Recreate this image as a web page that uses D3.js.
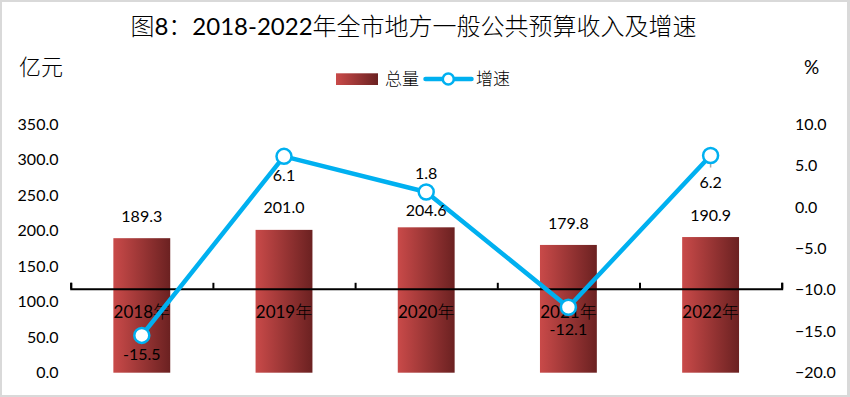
<!DOCTYPE html>
<html>
<head>
<meta charset="utf-8">
<script src="https://cdn.jsdelivr.net/npm/d3@7"></script>
<style>
  body { margin: 0; background: #fff; }
  svg { display: block; font-family: Lato, "Noto Sans CJK SC", sans-serif; }
</style>
</head>
<body>
<svg></svg>
<script>
var years = ['2018年', '2019年', '2020年', '2021年', '2022年'];
var totals = [189.3, 201.0, 204.6, 179.8, 190.9];
var growth = [-15.5, 6.1, 1.8, -12.1, 6.2];
var leftTicks = [0, 50, 100, 150, 200, 250, 300, 350];
var rightTicks = [-20, -15, -10, -5, 0, 5, 10];
// where each growth label sits: +1 below the point, -1 above
var growthLabelSide = [1, 1, -1, 1, 1];

var width = 850;
var height = 397;
var plotLeft = 70.7, plotRight = 781.7;
var plotTop = 124, plotBottom = 372.7;

var data = years.map(function(y, i) {
  return { year: y, total: totals[i], growth: growth[i], side: growthLabelSide[i] };
});

// latin runs regular, CJK runs light
function mixedText(sel, str) {
  var runs = str.match(/[\u3000-\u9fff\uff00-\uffef]+|[^\u3000-\u9fff\uff00-\uffef]+/g);
  runs.forEach(function(r) {
    sel.append('tspan')
      .style('font-weight', /[\u3000-\u9fff\uff00-\uffef]/.test(r) ? 300 : 400)
      .text(r);
  });
}

var svg = d3.select('svg')
  .attr('width', width)
  .attr('height', height);

// frame
svg.append('rect')
  .attr('width', width).attr('height', height)
  .attr('fill', '#d9d9d9');
svg.append('rect')
  .attr('x', 2).attr('y', 2)
  .attr('width', 845).attr('height', 393)
  .attr('fill', '#fff');

var defs = svg.append('defs');
var grad = defs.append('linearGradient')
  .attr('id', 'barGrad')
  .attr('x1', '0%').attr('x2', '100%')
  .attr('y1', '0%').attr('y2', '0%');
grad.append('stop').attr('offset', '0%').attr('stop-color', '#c94a49');
grad.append('stop').attr('offset', '100%').attr('stop-color', '#6b2121');

var xScale = d3.scaleBand()
  .domain(years)
  .range([plotLeft, plotRight])
  .paddingInner(0.6)
  .paddingOuter(0.3);

var xEdge = d3.scaleLinear()
  .domain([0, years.length])
  .range([plotLeft, plotRight]);

var yLeft = d3.scaleLinear()
  .domain([0, 350])
  .range([plotBottom, plotTop]);

var yRight = d3.scaleLinear()
  .domain([-20, 10])
  .range([plotBottom, plotTop]);

var cx = d => xScale(d.year) + xScale.bandwidth() / 2;

// title
svg.append('text')
  .attr('x', 413.5)
  .attr('y', 27)
  .attr('dy', '0.35em')
  .style('text-anchor', 'middle')
  .style('font-size', '24px')
  .call(mixedText, '图8：2018-2022年全市地方一般公共预算收入及增速');

svg.append('text')
  .attr('x', 41).attr('y', 67).attr('dy', '0.35em')
  .style('text-anchor', 'middle')
  .style('font-size', '22px')
  .style('font-weight', 300)
  .text('亿元');

svg.append('text')
  .attr('x', 811.7).attr('y', 67).attr('dy', '0.35em')
  .style('text-anchor', 'middle')
  .style('font-size', '19px')
  .text('%');

// axes tick labels
var yAxisL = d3.axisLeft(yLeft)
  .tickValues(leftTicks)
  .tickFormat(d3.format('.1f'))
  .tickSize(0)
  .tickPadding(0);
var gL = svg.append('g')
  .attr('transform', 'translate(58.5,0)')
  .call(yAxisL);
gL.select('.domain').remove();
gL.selectAll('text').style('font-size', '16px').style('font-family', 'Lato').attr('fill', '#000');

var yAxisR = d3.axisRight(yRight)
  .tickValues(rightTicks)
  .tickFormat(d3.format('.1f'))
  .tickSize(0)
  .tickPadding(0);
var gR = svg.append('g')
  .attr('transform', 'translate(795,0)')
  .call(yAxisR);
gR.select('.domain').remove();
gR.selectAll('text').style('font-size', '16px').style('font-family', 'Lato').attr('fill', '#000');

// bars
svg.selectAll('rect.bar')
  .data(data)
  .enter()
  .append('rect')
    .attr('class', 'bar')
    .attr('x', d => xScale(d.year))
    .attr('y', d => yLeft(d.total))
    .attr('width', xScale.bandwidth())
    .attr('height', d => yLeft(0) - yLeft(d.total))
    .attr('fill', 'url(#barGrad)');

// category axis (crosses at -10 on the right axis)
var xAxis = d3.axisBottom(xEdge)
  .tickValues(d3.range(years.length + 1))
  .tickFormat('')
  .tickSizeInner(-6)
  .tickSizeOuter(-6);
var gX = svg.append('g')
  .attr('transform', 'translate(0,' + (yRight(-10) - 1) + ')')
  .call(xAxis);
gX.selectAll('path, line').attr('stroke', '#000').attr('stroke-width', 2);

svg.selectAll('text.cat')
  .data(data)
  .enter()
  .append('text')
    .attr('class', 'cat')
    .attr('x', cx)
    .attr('y', yRight(-10) + 22)
    .attr('dy', '0.35em')
    .style('text-anchor', 'middle')
    .style('font-size', '17px')
    .each(function(d) { mixedText(d3.select(this), d.year); });

// growth line
var line = d3.line()
  .x(cx)
  .y(d => yRight(d.growth));

svg.append('path')
  .datum(data)
  .attr('d', line)
  .attr('fill', 'none')
  .attr('stroke', '#00b0f0')
  .attr('stroke-width', 4.5)
  .attr('stroke-linejoin', 'round');

// little leader mark on 2022
var last = data[data.length - 1];
svg.append('line')
  .attr('x1', cx(last))
  .attr('x2', cx(last))
  .attr('y1', yRight(last.growth) + 1)
  .attr('y2', yRight(last.growth) + 12)
  .attr('stroke', '#a6a6a6')
  .attr('stroke-width', 1.5);

svg.selectAll('circle.pt')
  .data(data)
  .enter()
  .append('circle')
    .attr('class', 'pt')
    .attr('cx', cx)
    .attr('cy', d => yRight(d.growth))
    .attr('r', 7.5)
    .attr('fill', '#fff')
    .attr('stroke', '#00b0f0')
    .attr('stroke-width', 2.5);

svg.selectAll('text.barLabel')
  .data(data)
  .enter()
  .append('text')
    .attr('class', 'barLabel')
    .attr('x', cx)
    .attr('y', (d, i) => yLeft(d.total) - (i === 2 ? 17 : 22))
    .attr('dy', '0.35em')
    .style('text-anchor', 'middle')
    .style('font-size', '16px')
    .text(d => d.total.toFixed(1));

svg.selectAll('text.gLabel')
  .data(data)
  .enter()
  .append('text')
    .attr('class', 'gLabel')
    .attr('x', cx)
    .attr('y', (d, i) => yRight(d.growth) + (i === 4 ? 27 : i === 3 ? 22 : d.side * 19))
    .attr('dy', '0.35em')
    .style('text-anchor', 'middle')
    .style('font-size', '16px')
    .text(d => d.growth.toFixed(1));

// legend
var lg = svg.append('g');
lg.append('rect')
  .attr('x', 336).attr('y', 73.3)
  .attr('width', 42).attr('height', 11.7)
  .attr('fill', 'url(#barGrad)');
lg.append('text')
  .attr('x', 385).attr('y', 79.5).attr('dy', '0.35em')
  .style('font-size', '17px')
  .style('font-weight', 300)
  .text('总量');
lg.append('line')
  .attr('x1', 425.5).attr('x2', 471.5)
  .attr('y1', 79).attr('y2', 79)
  .attr('stroke', '#00b0f0')
  .attr('stroke-width', 4.5)
  .attr('stroke-linecap', 'round');
lg.append('circle')
  .attr('cx', 448.3).attr('cy', 79)
  .attr('r', 5.5)
  .attr('fill', '#fff')
  .attr('stroke', '#00b0f0')
  .attr('stroke-width', 2.5);
lg.append('text')
  .attr('x', 476).attr('y', 79.5).attr('dy', '0.35em')
  .style('font-size', '17px')
  .style('font-weight', 300)
  .text('增速');
</script>
</body>
</html>
